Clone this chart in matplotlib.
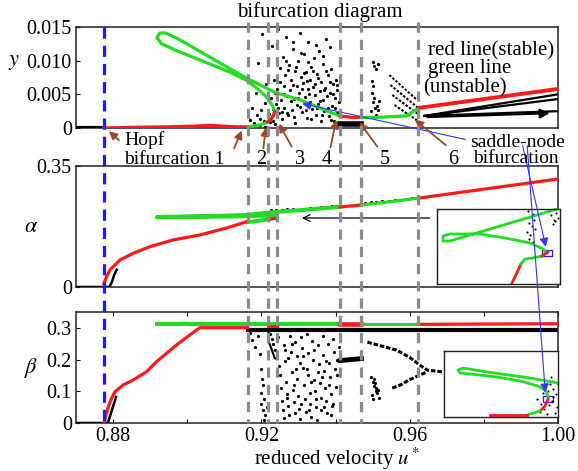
import matplotlib
matplotlib.use("Agg")
import matplotlib.pyplot as plt
from matplotlib.patches import Rectangle

plt.rcParams['font.family'] = ['Liberation Serif', 'DejaVu Serif']
plt.rcParams['mathtext.fontset'] = 'stix'

W, H = 578, 471

def px(x, y):
    # pixel position of the reference picture -> figure fraction
    return (x / W, 1 - y / H)

RED = '#ff1a1a'
GREEN = '#22dd22'
BROWN = '#9a4a2a'
GRAY = '#8c8c8c'

# ---------------- data ----------------
u_hopf = 0.8775
u_bif = [0.9163, 0.9219, 0.9241, 0.9413, 0.9470, 0.9623]

# unstable branch (loop), shared u path for y and alpha
u_loop = [0.9163, 0.9195, 0.9217, 0.9230, 0.9236, 0.9230, 0.9214, 0.9190, 0.9160,
          0.9115, 0.9034, 0.8966, 0.8931, 0.8918, 0.8926, 0.8942, 0.8980, 0.9074,
          0.9160, 0.9236, 0.9303, 0.9357, 0.9410]
y_loop = [0.00015, 0.00045, 0.0009, 0.0016, 0.0024, 0.0033, 0.0046, 0.0058, 0.0071,
          0.0083, 0.0101, 0.0116, 0.0125, 0.0134, 0.0141, 0.0141, 0.0131, 0.0101,
          0.0074, 0.0053, 0.0042, 0.0030, 0.0018]
a_loop = [0.188, 0.192, 0.196, 0.200, 0.205, 0.207, 0.207, 0.206, 0.205,
          0.204, 0.203, 0.2025, 0.2022, 0.2020, 0.2025, 0.2030, 0.2035, 0.2055,
          0.2083, 0.217, 0.222, 0.227, 0.2314]

# --- y panel
u_y_red1 = [0.8775, 0.885, 0.895, 0.902, 0.906, 0.909, 0.912, 0.9163]
y_red1 = [0.0, 0.0001, 0.00018, 0.00028, 0.0004, 0.0003, 0.0002, 0.00015]
u_y_redf = [0.9217, 0.9226, 0.9233, 0.9236]
y_redf = [0.0009, 0.0013, 0.0019, 0.0024]
u_y_red2 = [0.9413, 0.9440, 0.9470]
y_red2 = [0.00178, 0.00160, 0.00155]
u_y_grn2 = [0.9470, 0.9520, 0.9591, 0.9626]
y_grn2 = [0.00155, 0.00159, 0.0018, 0.0030]
u_y_red3 = [0.9626, 1.0]
y_red3 = [0.0030, 0.0058]
# periodic branches after point 6
y_per_end = [0.0050, 0.0043, 0.0025]
# window streaks between 5 and 6
streak_u0 = [0.9545, 0.9548, 0.9553, 0.9559]
streak_y0 = [0.00787, 0.00639, 0.0049, 0.00342]
streak_u1 = [0.9620, 0.9623, 0.9626, 0.9626]
streak_y1 = [0.00416, 0.00297, 0.00193, 0.00089]

chaos_y_u = [0.9170, 0.9175, 0.9180, 0.9185, 0.9188, 0.9192, 0.9195, 0.9200, 0.9203, 0.9207,
             0.9210, 0.9213, 0.9218, 0.9222, 0.9226, 0.9229, 0.9232, 0.9235, 0.9238, 0.9240,
             0.9243, 0.9245, 0.9248, 0.9250, 0.9253, 0.9255, 0.9258, 0.9260, 0.9262, 0.9265,
             0.9267, 0.9270, 0.9272, 0.9275, 0.9277, 0.9280, 0.9282, 0.9285, 0.9287, 0.9290,
             0.9292, 0.9295, 0.9297, 0.9300, 0.9302, 0.9305, 0.9307, 0.9310, 0.9312, 0.9315,
             0.9317, 0.9320, 0.9322, 0.9325, 0.9327, 0.9330, 0.9332, 0.9335, 0.9337, 0.9340,
             0.9342, 0.9345, 0.9347, 0.9350, 0.9352, 0.9355, 0.9357, 0.9360, 0.9362, 0.9365,
             0.9367, 0.9370, 0.9372, 0.9375, 0.9377, 0.9380, 0.9383, 0.9385, 0.9388, 0.9390,
             0.9393, 0.9395, 0.9398, 0.9400, 0.9403, 0.9405, 0.9408,
             0.9262, 0.9268, 0.9273, 0.9279, 0.9284, 0.9289, 0.9294, 0.9299, 0.9304, 0.9309,
             0.9314, 0.9319, 0.9324, 0.9329, 0.9334, 0.9339, 0.9344, 0.9349, 0.9354, 0.9359,
             0.9364, 0.9369, 0.9374, 0.9379, 0.9384, 0.9389, 0.9394, 0.9399, 0.9404, 0.9251,
             0.9246, 0.9241, 0.9236, 0.9256, 0.9266, 0.9286, 0.9306, 0.9326, 0.9346, 0.9366,
             0.9386, 0.9211, 0.9221, 0.9231, 0.9196,
             0.9500, 0.9505, 0.9510, 0.9515, 0.9498, 0.9502, 0.9497, 0.9503, 0.9500, 0.9506,
             0.9495, 0.9508, 0.9512, 0.9515, 0.9518]
chaos_y_y = [0.0012, 0.0030, 0.0008, 0.0052, 0.0019, 0.0096, 0.0004, 0.0026, 0.0140, 0.0011,
             0.0037, 0.0065, 0.0016, 0.0009, 0.0045, 0.0122, 0.0028, 0.0071, 0.0006, 0.0035,
             0.0058, 0.0147, 0.0022, 0.0089, 0.0041, 0.0013, 0.0105, 0.0062, 0.0030, 0.0078,
             0.0135, 0.0048, 0.0019, 0.0094, 0.0056, 0.0071, 0.0026, 0.0118, 0.0043, 0.0085,
             0.0008, 0.0063, 0.0034, 0.0099, 0.0052, 0.0141, 0.0076, 0.0024, 0.0067, 0.0110,
             0.0046, 0.0083, 0.0015, 0.0058, 0.0128, 0.0039, 0.0072, 0.0091, 0.0028, 0.0061,
             0.0104, 0.0049, 0.0019, 0.0080, 0.0036, 0.0115, 0.0055, 0.0011, 0.0069, 0.0042,
             0.0095, 0.0025, 0.0060, 0.0132, 0.0047, 0.0078, 0.0018, 0.0052, 0.0088, 0.0033,
             0.0066, 0.0010, 0.0044, 0.0072, 0.0023, 0.0056, 0.0038,
             0.0051, 0.0022, 0.0086, 0.0040, 0.0064, 0.0017, 0.0090, 0.0045, 0.0031, 0.0058,
             0.0082, 0.0027, 0.0070, 0.0050, 0.0014, 0.0085, 0.0066, 0.0030, 0.0074, 0.0040,
             0.0020, 0.0057, 0.0084, 0.0029, 0.0068, 0.0012, 0.0050, 0.0030, 0.0064, 0.0068,
             0.0030, 0.0017, 0.0052, 0.0024, 0.0100, 0.0128, 0.0112, 0.0098, 0.0124, 0.0107,
             0.0120, 0.0002, 0.0021, 0.0010, 0.0014,
             0.0098, 0.0092, 0.0088, 0.0095, 0.0070, 0.0062, 0.0052, 0.0045, 0.0038, 0.0030,
             0.0025, 0.0020, 0.0033, 0.0026, 0.0040]

# --- alpha panel
u_a_blk = [0.870, 0.8790, 0.8797, 0.8803, 0.8810]
a_blk = [0.0, 0.0, 0.015, 0.035, 0.050]
u_a_red1 = [0.87754, 0.87826, 0.87915, 0.8805, 0.88184, 0.88542, 0.88992, 0.89611,
            0.90338, 0.91064, 0.91603]
a_red1 = [0.0107, 0.0298, 0.0492, 0.0636, 0.0781, 0.0975, 0.1166, 0.1360,
          0.1504, 0.1707, 0.1889]
u_a_redf = [0.9219, 0.9236]
a_redf = [0.196, 0.198]
u_a_red2 = [0.9413, 0.9470]
a_red2 = [0.2314, 0.2372]
u_a_grn2 = [0.9470, 0.9550, 0.9626]
a_grn2 = [0.2372, 0.2470, 0.2574]
u_a_red3 = [0.9626, 1.0]
a_red3 = [0.2574, 0.3124]
dots_a_u = [0.9225, 0.9240, 0.9255, 0.9270, 0.9285, 0.9300, 0.9315, 0.9330, 0.9345, 0.9360,
            0.9375, 0.9390, 0.9402, 0.9480, 0.9495, 0.9510, 0.9525, 0.9545, 0.9560, 0.9575,
            0.9590, 0.9605]
dots_a_a = [0.223, 0.224, 0.222, 0.225, 0.226, 0.224, 0.227, 0.228, 0.229, 0.231,
            0.230, 0.233, 0.234, 0.244, 0.246, 0.245, 0.248, 0.250, 0.251, 0.253,
            0.254, 0.256]

# --- beta panel
u_b_blk = [0.870, 0.8786, 0.8797, 0.8808]
b_blk = [0.0, 0.0, 0.041, 0.082]
u_b_red1 = [0.87762, 0.87807, 0.87869, 0.87961, 0.8805, 0.88273, 0.88542, 0.88903,
            0.89172, 0.8971, 0.90068, 0.90338, 0.9163]
b_red1 = [0.0, 0.0252, 0.0514, 0.0779, 0.0987, 0.1198, 0.1356, 0.1618,
          0.1933, 0.2459, 0.2775, 0.3005, 0.3005]
b_top = 0.311
b_band = 0.294
pd_up_u = [0.9486, 0.9520, 0.9564, 0.9600, 0.9634, 0.9647, 0.9690]
pd_up_b = [0.255, 0.244, 0.230, 0.207, 0.177, 0.167, 0.161]
pd_lo_u = [0.9553, 0.9575, 0.9599, 0.9625, 0.9647]
pd_lo_b = [0.110, 0.120, 0.136, 0.150, 0.161]
p2_u = [0.9413, 0.9470]
p2_b = [0.197, 0.203]
chaos_b_u = [0.9170, 0.9175, 0.9182, 0.9190, 0.9195, 0.9200, 0.9203, 0.9205, 0.9198, 0.9207,
             0.9200, 0.9204, 0.9210, 0.9206, 0.9215, 0.9218, 0.9224, 0.9228, 0.9232, 0.9236,
             0.9240, 0.9245, 0.9248, 0.9250, 0.9252, 0.9255, 0.9257, 0.9260, 0.9262, 0.9265,
             0.9267, 0.9270, 0.9272, 0.9275, 0.9277, 0.9280, 0.9282, 0.9285, 0.9287, 0.9290,
             0.9292, 0.9295, 0.9297, 0.9300, 0.9302, 0.9305, 0.9307, 0.9310, 0.9312, 0.9315,
             0.9317, 0.9320, 0.9322, 0.9325, 0.9327, 0.9330, 0.9332, 0.9335, 0.9337, 0.9340,
             0.9342, 0.9345, 0.9347, 0.9350, 0.9352, 0.9355, 0.9357, 0.9360, 0.9362, 0.9365,
             0.9367, 0.9370, 0.9372, 0.9375, 0.9377, 0.9380, 0.9383, 0.9385, 0.9388, 0.9390,
             0.9393, 0.9395, 0.9398, 0.9400, 0.9403, 0.9405, 0.9408, 0.9263, 0.9283, 0.9303,
             0.9323, 0.9343, 0.9363, 0.9383, 0.9268, 0.9288, 0.9308, 0.9328, 0.9348, 0.9368,
             0.9388, 0.9273, 0.9293, 0.9313, 0.9333, 0.9353, 0.9373, 0.9393,
             0.9495, 0.9500, 0.9505, 0.9510, 0.9498, 0.9503, 0.9508, 0.9513, 0.9518, 0.9501,
             0.9507, 0.9515]
chaos_b_b = [0.285, 0.262, 0.240, 0.275, 0.218, 0.170, 0.140, 0.120, 0.095, 0.075,
             0.060, 0.040, 0.025, 0.010, 0.050, 0.290, 0.280, 0.265, 0.250, 0.230,
             0.205, 0.270, 0.180, 0.150, 0.110, 0.070, 0.040, 0.015, 0.245, 0.195,
             0.130, 0.090, 0.055, 0.025, 0.275, 0.225, 0.160, 0.105, 0.065, 0.030,
             0.255, 0.210, 0.140, 0.085, 0.045, 0.012, 0.270, 0.235, 0.175, 0.120,
             0.075, 0.035, 0.280, 0.220, 0.150, 0.095, 0.060, 0.020, 0.260, 0.200,
             0.135, 0.100, 0.050, 0.010, 0.245, 0.185, 0.125, 0.080, 0.040, 0.275,
             0.215, 0.165, 0.110, 0.070, 0.030, 0.250, 0.190, 0.145, 0.090, 0.055,
             0.265, 0.225, 0.170, 0.115, 0.200, 0.150, 0.240, 0.230, 0.250, 0.190,
             0.170, 0.230, 0.145, 0.120, 0.080, 0.120, 0.060, 0.040, 0.075, 0.050,
             0.025, 0.205, 0.170, 0.210, 0.130, 0.160, 0.195, 0.060,
             0.145, 0.130, 0.118, 0.100, 0.088, 0.140, 0.110, 0.095, 0.080, 0.075,
             0.125, 0.105]

# --- insets (axes-fraction coordinates)
in1_g_x = [0.894, 0.862, 0.756, 0.553, 0.350, 0.106, 0.049, 0.049, 0.106, 0.350, 0.675, 0.976]
in1_g_y = [0.413, 0.467, 0.547, 0.613, 0.667, 0.667, 0.640, 0.573, 0.573, 0.693, 0.853, 1.000]
in1_r1_x = [0.610, 0.683]
in1_r1_y = [0.013, 0.267]
in1_g2_x = [0.683, 0.715, 0.780, 0.854]
in1_g2_y = [0.267, 0.333, 0.347, 0.373]
in1_r2_x = [0.854, 0.902]
in1_r2_y = [0.373, 0.427]
in1_dot_x = [0.74, 0.76, 0.78, 0.75, 0.77, 0.79, 0.73, 0.76, 0.80, 0.75, 0.78, 0.93, 0.95, 0.97, 0.94, 0.96, 0.98]
in1_dot_y = [0.97, 0.90, 0.94, 0.82, 0.78, 0.86, 0.70, 0.66, 0.73, 0.60, 0.56, 0.92, 0.86, 0.95, 0.80, 0.84, 0.88]
in2_g_x = [0.912, 0.895, 0.825, 0.667, 0.465, 0.228, 0.140, 0.123, 0.167, 0.377, 0.754, 1.000]
in2_g_y = [0.303, 0.394, 0.470, 0.545, 0.606, 0.652, 0.667, 0.712, 0.742, 0.682, 0.591, 0.515]
in2_r1_x = [0.912, 0.886, 0.842]
in2_r1_y = [0.273, 0.167, 0.091]
in2_g2_x = [0.842, 0.754, 0.728]
in2_g2_y = [0.091, 0.045, 0.030]
in2_r2_x = [0.728, 0.404]
in2_r2_y = [0.030, 0.030]
in2_dot_x = [0.82, 0.85, 0.88, 0.93, 0.96, 0.98, 0.90, 0.95, 0.99, 0.84, 0.87, 0.92, 0.97, 0.94, 0.89, 0.99, 0.96, 0.91]
in2_dot_y = [0.28, 0.20, 0.12, 0.50, 0.42, 0.35, 0.05, 0.25, 0.15, 0.08, 0.36, 0.18, 0.06, 0.60, 0.46, 0.52, 0.30, 0.40]

# ---------------- figure ----------------
fig = plt.figure(figsize=(5.78, 4.71), dpi=100)
ax_y = fig.add_axes([76 / W, 1 - 128 / H, 482 / W, 101 / H])
ax_a = fig.add_axes([76 / W, 1 - 287 / H, 482 / W, 121 / H])
ax_b = fig.add_axes([76 / W, 1 - 423 / H, 482 / W, 111 / H])

for ax in (ax_y, ax_a, ax_b):
    ax.set_xlim(0.87, 1.0)
    ax.tick_params(direction='in', labelsize=14.5, length=3, pad=3)
    for s in ax.spines.values():
        s.set_linewidth(1.1)
        s.set_color('#222222')

lw = 2.3
ms = 2.3

# y panel
ax_y.set_ylim(0, 0.015)
ax_y.plot(chaos_y_u, chaos_y_y, 'o', color='k', ms=ms, mew=0, zorder=2)
for i in range(len(streak_u0)):
    ax_y.plot([streak_u0[i], streak_u1[i]], [streak_y0[i], streak_y1[i]], color='k',
              lw=1.5, ls=(0, (1.2, 0.8)), zorder=2)
for ye in y_per_end:
    ax_y.plot([0.9640, 1.0], [0.0018, ye], color='k', lw=1.6, zorder=2)
ax_y.plot([0.9413, 0.9470], [0.0006, 0.0006], color='k', lw=4, zorder=2)
ax_y.plot([0.870, u_hopf], [0, 0], color='k', lw=3, zorder=3)
ax_y.plot(u_loop, y_loop, color=GREEN, lw=lw, zorder=3)
ax_y.plot(u_y_red1, y_red1, color=RED, lw=lw, zorder=4)
ax_y.plot(u_y_redf, y_redf, color=RED, lw=lw, zorder=4)
ax_y.plot(u_y_red2, y_red2, color=RED, lw=lw, zorder=4)
ax_y.plot(u_y_grn2, y_grn2, color=GREEN, lw=lw, zorder=4)
ax_y.plot(u_y_red3, y_red3, color=RED, lw=lw + 0.5, zorder=4)
ax_y.annotate('', xy=(0.9985, 0.0022), xytext=(0.9640, 0.0016),
              arrowprops=dict(arrowstyle='-|>', color='k', lw=1.5, mutation_scale=14), zorder=5)
ax_y.set_yticks([0, 0.005, 0.010, 0.015])
ax_y.set_yticklabels(['0', '0.005', '0.010', '0.015'])
ax_y.set_xticks([])

# alpha panel
ax_a.set_ylim(0, 0.35)
ax_a.plot(u_a_blk, a_blk, color='k', lw=1.8, zorder=3)
ax_a.plot(dots_a_u, dots_a_a, 'o', color='k', ms=ms, mew=0, zorder=2)
ax_a.plot(u_loop, a_loop, color=GREEN, lw=lw + 0.6, zorder=3)
ax_a.plot(u_a_red1, a_red1, color=RED, lw=lw, zorder=4)
ax_a.plot(u_a_redf, a_redf, color=RED, lw=lw, zorder=4)
ax_a.plot(u_a_red2, a_red2, color=RED, lw=lw, zorder=4)
ax_a.plot(u_a_grn2, a_grn2, color=GREEN, lw=lw, zorder=4)
ax_a.plot(u_a_red3, a_red3, color=RED, lw=lw, zorder=4)
ax_a.annotate('', xy=(0.9302, 0.1996), xytext=(0.9661, 0.1996),
              arrowprops=dict(arrowstyle='->', color='k', lw=0.9, mutation_scale=12), zorder=5)
ax_a.set_yticks([0, 0.35])
ax_a.set_yticklabels(['0', '0.35'])
ax_a.set_xticks([])

# beta panel
ax_b.set_ylim(0, 0.35)
ax_b.plot(chaos_b_u, chaos_b_b, 'o', color='k', ms=ms, mew=0, zorder=2)
ax_b.plot([0.9163, 1.0], [b_band, b_band], color='k', lw=3, zorder=2)
ax_b.plot(pd_up_u, pd_up_b, color='k', lw=2.2, ls=(0, (1.5, 0.6)), zorder=2)
ax_b.plot(pd_lo_u, pd_lo_b, color='k', lw=2.2, ls=(0, (1.5, 0.6)), zorder=2)
ax_b.plot(p2_u, p2_b, color='k', lw=3.5, zorder=2)
ax_b.plot([0.9222, 0.9236], [0.250, 0.205], color='k', lw=1.5, zorder=2)
ax_b.plot(u_b_blk, b_blk, color='k', lw=1.8, zorder=3)
ax_b.plot([0.8918, 0.9413], [b_top, b_top], color=GREEN, lw=lw + 0.6, zorder=3)
ax_b.plot(u_b_red1, b_red1, color=RED, lw=lw, zorder=4)
ax_b.plot([u_bif[1], u_bif[2]], [0.305, 0.305], color=RED, lw=lw, zorder=4)
ax_b.plot([u_bif[3], u_bif[4]], [b_top, b_top], color=RED, lw=lw + 1, zorder=4)
ax_b.plot([u_bif[4], u_bif[5]], [b_top, b_top], color=GREEN, lw=lw, zorder=4)
ax_b.plot([u_bif[5], 1.0], [b_top, 0.313], color=RED, lw=lw, zorder=4)
ax_b.set_yticks([0, 0.1, 0.2, 0.3])
ax_b.set_yticklabels(['0', '0.1', '0.2', '0.3'])
ax_b.set_xticks([0.88, 0.90, 0.92, 0.94, 0.96, 0.98, 1.00])
ax_b.set_xticklabels(['0.88', '', '0.92', '', '0.96', '', '1.00'])
ax_b.tick_params(axis='x', top=True, pad=3)

# insets
ins1 = fig.add_axes([437 / W, 1 - 284 / H, 123 / W, 75 / H])
ins2 = fig.add_axes([444 / W, 1 - 417 / H, 114 / W, 66 / H])
for ins in (ins1, ins2):
    ins.set_xlim(0, 1)
    ins.set_ylim(0, 1)
    ins.set_xticks([])
    ins.set_yticks([])
    for s in ins.spines.values():
        s.set_linewidth(1.0)
        s.set_color('#222222')
ins1.plot(in1_dot_x, in1_dot_y, 'o', color='k', ms=1.5, mew=0)
ins1.plot(in1_g_x, in1_g_y, color=GREEN, lw=2, clip_on=False)
ins1.plot(in1_r1_x, in1_r1_y, color=RED, lw=2)
ins1.plot(in1_g2_x, in1_g2_y, color=GREEN, lw=2)
ins1.plot(in1_r2_x, in1_r2_y, color=RED, lw=2)
ins1.add_patch(Rectangle((0.854, 0.373), 0.081, 0.08, fill=False, ec='#1a1aff', lw=0.9))
ins2.plot(in2_dot_x, in2_dot_y, 'o', color='k', ms=1.5, mew=0)
ins2.plot(in2_g_x, in2_g_y, color=GREEN, lw=2, clip_on=False)
ins2.plot(in2_r1_x, in2_r1_y, color=RED, lw=2)
ins2.plot(in2_g2_x, in2_g2_y, color=GREEN, lw=2)
ins2.plot(in2_r2_x, in2_r2_y, color=RED, lw=2)
ins2.add_patch(Rectangle((0.868, 0.227), 0.088, 0.09, fill=False, ec='#1a1aff', lw=0.9))

blue_arrow = dict(arrowstyle='-|>', color='#3333ff', lw=0.8, mutation_scale=13)
ins1.annotate('', xy=(0.89, 0.46), xycoords='axes fraction', xytext=px(522, 143),
              textcoords='figure fraction', arrowprops=blue_arrow, annotation_clip=False)
ins2.annotate('', xy=(0.89, 0.33), xycoords='axes fraction', xytext=px(527, 143),
              textcoords='figure fraction', arrowprops=blue_arrow, annotation_clip=False)
ax_y.annotate('', xy=(0.9303, 0.0037), xytext=px(468, 140), textcoords='figure fraction',
              arrowprops=blue_arrow, annotation_clip=False, zorder=6)

# overlay for the vertical dashed lines across panels
ov = fig.add_axes([76 / W, 1 - 428 / H, 482 / W, (428 - 15) / H])
ov.set_xlim(0.87, 1.0)
ov.set_ylim(428, 15)
ov.axis('off')
ov.patch.set_alpha(0)
ov.vlines(u_bif, 22, 423, colors=GRAY, lw=2.3, linestyles=[(0, (3.2, 2.2))])
ov.vlines([u_hopf], 27, 428, colors='#1a1aff', lw=2.3, linestyles=[(0, (3.5, 2.2))])

# texts
fs = 15
fig.text(*px(320, 17), 'bifurcation diagram', fontsize=fs, ha='center', va='baseline')
fig.text(*px(428, 55), 'red line(stable)', fontsize=fs, va='baseline')
fig.text(*px(428, 73), 'green line', fontsize=fs, va='baseline')
fig.text(*px(423, 92), '(unstable)', fontsize=fs, va='baseline')
fig.text(*px(124, 145), 'Hopf', fontsize=14, va='baseline')
fig.text(*px(124, 164), 'bifurcation 1', fontsize=14, va='baseline')
for lab, x in zip(['2', '3', '4', '5', '6'], [261, 300, 327, 385, 453]):
    fig.text(*px(x, 164), lab, fontsize=14.5, ha='center', va='baseline')
fig.text(*px(470, 147), 'saddle-node', fontsize=14, va='baseline')
fig.text(*px(473, 163), 'bifurcation', fontsize=14, va='baseline')
fig.text(*px(14, 62), '$y$', fontsize=fs + 1, ha='center', va='center')
fig.text(*px(31, 228), r'$\alpha$', fontsize=fs + 1, ha='center', va='center')
fig.text(*px(31, 368), r'$\beta$', fontsize=fs + 1, ha='center', va='center')
fig.text(*px(337, 465), 'reduced velocity $u^*$', fontsize=fs, ha='center', va='baseline')

# brown arrows to the bifurcation points
brown = dict(arrowstyle='-|>', color=BROWN, lw=1.3, mutation_scale=12)
arrow_tips = [(0.8783, -0.0002), (0.9150, 0.0000), (0.9213, 0.0005), (0.9244, 0.0010),
              (0.9403, 0.0016), (0.9460, 0.0012), (0.9608, 0.0015)]
arrow_tails = [(121, 142), (233, 151), (263, 151), (293, 149), (330, 150), (379, 149), (448, 147)]
for tip, tail in zip(arrow_tips, arrow_tails):
    ax_y.annotate('', xy=tip, xytext=px(*tail), textcoords='figure fraction',
                  arrowprops=brown, annotation_clip=False, zorder=6)

fig.savefig('out.png', dpi=100)
